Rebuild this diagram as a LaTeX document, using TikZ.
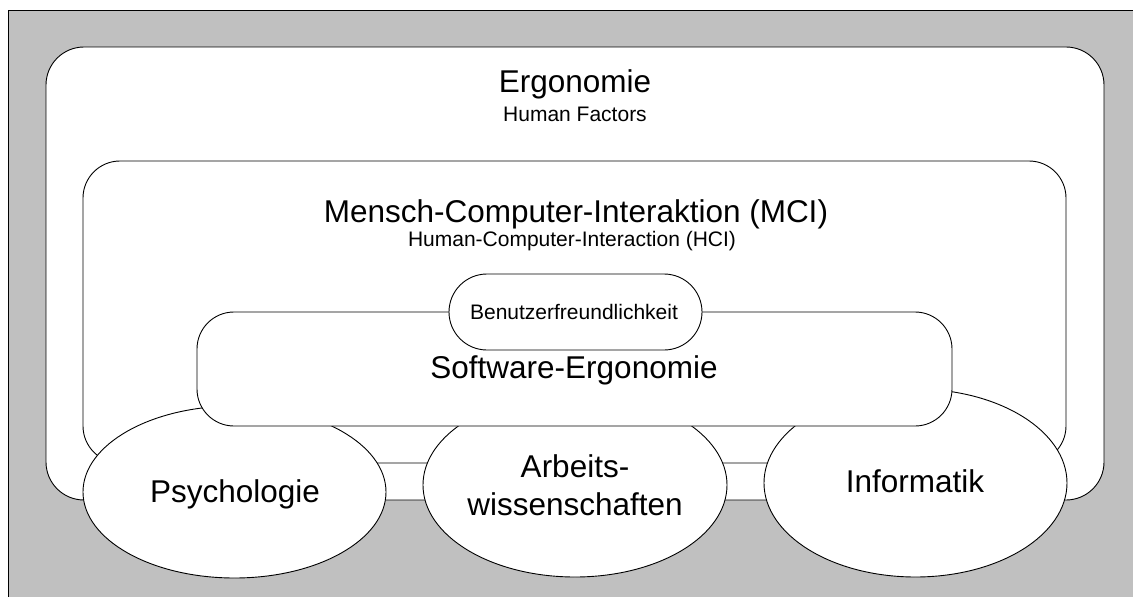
\documentclass[tikz,border=0pt]{standalone}
\usepackage{fontspec}
\setmainfont{Liberation Sans}
\usetikzlibrary{shapes.geometric}
\definecolor{framegray}{RGB}{192,192,192}
\tikzset{
  panel/.style={draw=black, fill=white, line width=0.9pt, rounded corners=38pt, inner sep=0pt, outer sep=0pt},
  blob/.style={ellipse, draw=black, fill=white, line width=0.9pt, inner sep=0pt, outer sep=0pt},
  bigtxt/.style={font=\fontsize{31.5}{38}\selectfont, anchor=base, inner sep=0pt},
  smalltxt/.style={font=\fontsize{21}{25}\selectfont, anchor=base, inner sep=0pt},
}
\begin{document}
\begin{tikzpicture}[x=1pt,y=-1pt]
  \useasboundingbox (0,0) rectangle (1133,597);
  % grey frame, cut off at the right and bottom
  \fill[framegray] (8,10) rectangle (1150,610);
  \draw[line width=0.9pt] (8,610) -- (8,10) -- (1150,10);
  % nested fields
  \node[panel, minimum width=1058pt, minimum height=453pt] (ergo) at (575,273.5) {};
  \node[panel, rounded corners=37pt, minimum width=983pt, minimum height=302pt] (mci) at (574.5,312) {};
  \node[blob, minimum width=303pt, minimum height=172pt] (psy) at (234.5,492) {};
  \node[blob, minimum width=304pt, minimum height=184pt] (arb) at (575,485) {};
  \node[blob, minimum width=303pt, minimum height=188pt] (inf) at (915.5,483) {};
  \node[panel, rounded corners=37pt, minimum width=755pt, minimum height=114pt] (sw) at (574.5,369) {};
  \node[panel, minimum width=253pt, minimum height=76pt] (bf) at (575.5,312) {};
  % labels
  \node[bigtxt] (ergoT) at (575,92) {Ergonomie};
  \node[smalltxt] (ergoS) at (575,121) {Human Factors};
  \node[bigtxt] (mciT) at (576,222) {Mensch-Computer-Interaktion (MCI)};
  \node[smalltxt] (mciS) at (572,246) {Human-Computer-Interaction (HCI)};
  \node[bigtxt] (swT) at (574,378) {Software-Ergonomie};
  \node[smalltxt] (bfT) at (574,319) {Benutzerfreundlichkeit};
  \node[bigtxt] (psyT) at (235,502) {Psychologie};
  \node[bigtxt] (arbA) at (575,477) {Arbeits-};
  \node[bigtxt] (arbB) at (575,515) {wissenschaften};
  \node[bigtxt] (infT) at (915,492) {Informatik};
\end{tikzpicture}
\end{document}
